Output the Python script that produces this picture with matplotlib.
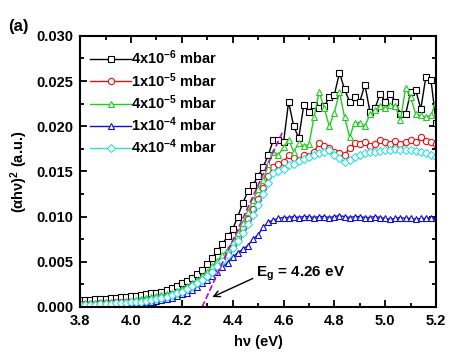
import numpy as np
import matplotlib
matplotlib.use('Agg')
import matplotlib.pyplot as plt
from matplotlib.ticker import MultipleLocator

plt.rcParams['font.family'] = ['Liberation Sans', 'DejaVu Sans']
plt.rcParams['font.weight'] = 'bold'
plt.rcParams['mathtext.fontset'] = 'custom'
plt.rcParams['mathtext.rm'] = 'Liberation Sans:bold'
plt.rcParams['mathtext.bf'] = 'Liberation Sans:bold'
plt.rcParams['mathtext.it'] = 'Liberation Sans:bold'

# photon energy (eV)
energy = np.round(np.arange(3.80, 5.2001, 0.02), 2)

y_4e6 = [0.0008, 0.0008, 0.0008, 0.0009, 0.0009, 0.0009, 0.0010, 0.0010, 0.0011, 0.0011,
         0.0012, 0.0012, 0.0013, 0.0014, 0.0015, 0.0016, 0.0017, 0.0019, 0.0021, 0.0023,
         0.0026, 0.0029, 0.0032, 0.0036, 0.0041, 0.0047, 0.0054, 0.0062, 0.0070, 0.0078,
         0.0086, 0.0100, 0.0115, 0.0128, 0.0135, 0.0145, 0.0155, 0.0168, 0.0185, 0.0185,
         0.0182, 0.0227, 0.0200, 0.0187, 0.0224, 0.0216, 0.0224, 0.0220, 0.0222, 0.0232,
         0.0235, 0.0259, 0.0241, 0.0227, 0.0232, 0.0227, 0.0246, 0.0216, 0.0220, 0.0236,
         0.0227, 0.0236, 0.0227, 0.0213, 0.0213, 0.0238, 0.0240, 0.0219, 0.0255, 0.0251,
         0.0204]
y_1e5 = [0.0003, 0.0003, 0.0003, 0.0003, 0.0004, 0.0004, 0.0004, 0.0005, 0.0005, 0.0005,
         0.0006, 0.0006, 0.0007, 0.0008, 0.0009, 0.0010, 0.0011, 0.0012, 0.0014, 0.0016,
         0.0018, 0.0021, 0.0024, 0.0027, 0.0031, 0.0036, 0.0041, 0.0047, 0.0053, 0.0060,
         0.0068, 0.0077, 0.0087, 0.0097, 0.0108, 0.0120, 0.0132, 0.0145, 0.0155, 0.0158,
         0.0160, 0.0168, 0.0165, 0.0163, 0.0168, 0.0167, 0.0172, 0.0181, 0.0178, 0.0176,
         0.0172, 0.0170, 0.0168, 0.0176, 0.0181, 0.0180, 0.0183, 0.0178, 0.0180, 0.0185,
         0.0182, 0.0180, 0.0184, 0.0180, 0.0182, 0.0185, 0.0183, 0.0188, 0.0184, 0.0182,
         0.0180]
y_4e5 = [0.0004, 0.0004, 0.0004, 0.0004, 0.0005, 0.0005, 0.0005, 0.0006, 0.0006, 0.0007,
         0.0007, 0.0008, 0.0009, 0.0010, 0.0011, 0.0012, 0.0013, 0.0014, 0.0016, 0.0018,
         0.0020, 0.0023, 0.0026, 0.0030, 0.0034, 0.0039, 0.0045, 0.0051, 0.0057, 0.0064,
         0.0072, 0.0082, 0.0093, 0.0105, 0.0118, 0.0130, 0.0140, 0.0158, 0.0172, 0.0168,
         0.0177, 0.0185, 0.0172, 0.0181, 0.0178, 0.0180, 0.0210, 0.0238, 0.0220, 0.0200,
         0.0215, 0.0238, 0.0210, 0.0188, 0.0204, 0.0204, 0.0200, 0.0213, 0.0218, 0.0222,
         0.0220, 0.0224, 0.0222, 0.0207, 0.0242, 0.0232, 0.0213, 0.0212, 0.0210, 0.0212,
         0.0227]
y_1e4 = [0.0001, 0.0001, 0.0001, 0.0001, 0.0002, 0.0002, 0.0002, 0.0002, 0.0003, 0.0003,
         0.0003, 0.0004, 0.0004, 0.0005, 0.0006, 0.0007, 0.0008, 0.0009, 0.0010, 0.0012,
         0.0014, 0.0016, 0.0019, 0.0022, 0.0026, 0.0030, 0.0034, 0.0039, 0.0044, 0.0049,
         0.0055, 0.0060, 0.0064, 0.0068, 0.0075, 0.0080, 0.0088, 0.0094, 0.0096, 0.0098,
         0.0099, 0.0099, 0.0100, 0.0099, 0.0100, 0.0100, 0.0099, 0.0100, 0.0100, 0.0099,
         0.0100, 0.0101, 0.0100, 0.0099, 0.0100, 0.0100, 0.0099, 0.0099, 0.0100, 0.0099,
         0.0098, 0.0097, 0.0098, 0.0099, 0.0098, 0.0098, 0.0097, 0.0098, 0.0098, 0.0099,
         0.0098]
y_4e4 = [0.0002, 0.0002, 0.0002, 0.0002, 0.0003, 0.0003, 0.0003, 0.0004, 0.0004, 0.0004,
         0.0005, 0.0005, 0.0006, 0.0007, 0.0008, 0.0009, 0.0010, 0.0011, 0.0013, 0.0015,
         0.0017, 0.0020, 0.0023, 0.0026, 0.0030, 0.0034, 0.0039, 0.0045, 0.0051, 0.0058,
         0.0065, 0.0073, 0.0082, 0.0092, 0.0102, 0.0113, 0.0125, 0.0137, 0.0148, 0.0150,
         0.0153, 0.0157, 0.0158, 0.0161, 0.0164, 0.0166, 0.0168, 0.0170, 0.0172, 0.0174,
         0.0168, 0.0165, 0.0160, 0.0163, 0.0166, 0.0168, 0.0170, 0.0171, 0.0172, 0.0173,
         0.0174, 0.0174, 0.0175, 0.0174, 0.0174, 0.0174, 0.0173, 0.0172, 0.0170, 0.0168,
         0.0166]

labels = ['4x10$^{-6}$ mbar', '1x10$^{-5}$ mbar', '4x10$^{-5}$ mbar',
          '1x10$^{-4}$ mbar', '4x10$^{-4}$ mbar']

# linear fit of the absorption edge (Tauc extrapolation)
fit_x = [4.28, 4.595]
fit_y = [0.0, 0.0193]

fig = plt.figure(figsize=(4.74, 3.62), dpi=100)
ax = fig.add_axes([0.169, 0.152, 0.751, 0.749])

series = [y_4e6, y_1e5, y_4e5, y_1e4, y_4e4]
colors = ['black', '#e81010', '#22cc22', '#1010cc', '#33dddd']
markers = ['s', 'o', '^', '^', 'D']
sizes = [4.5, 4.5, 5, 5, 4.2]
for ys, c, m, ms, lab in zip(series, colors, markers, sizes, labels):
    ax.plot(energy, ys, color=c, marker=m, markersize=ms, markerfacecolor='white',
            markeredgewidth=0.8, linewidth=1.0, label=lab)

ax.plot(fit_x, fit_y, color='#cc00cc', linestyle='--', linewidth=1.2)

ax.set_xlim(3.8, 5.2)
ax.set_ylim(0, 0.030)
ax.xaxis.set_major_locator(MultipleLocator(0.2))
ax.xaxis.set_minor_locator(MultipleLocator(0.1))
ax.yaxis.set_major_locator(MultipleLocator(0.005))
ax.yaxis.set_minor_locator(MultipleLocator(0.0025))
ax.xaxis.set_major_formatter(plt.FormatStrFormatter('%.1f'))
ax.yaxis.set_major_formatter(plt.FormatStrFormatter('%.3f'))
ax.tick_params(which='both', direction='in', top=True, right=True, width=1.3)
ax.tick_params(which='major', length=5, labelsize=10.5, pad=5)
ax.tick_params(which='minor', length=3)
for s in ax.spines.values():
    s.set_linewidth(1.5)
for t in ax.get_xticklabels() + ax.get_yticklabels():
    t.set_fontweight('bold')

ax.set_xlabel('h\u03bd (eV)', fontsize=10.5, fontweight='bold', labelpad=5)
ax.set_ylabel('(\u03b1h\u03bd)$^2$ (a.u.)', fontsize=10.5, fontweight='bold', labelpad=4)

ax.annotate('E$_g$ = 4.26 eV', xy=(4.32, 0.0011), xytext=(4.49, 0.0037),
            fontsize=11, fontweight='bold', va='center',
            arrowprops=dict(arrowstyle='->', color='black', lw=1.0, shrinkA=0, shrinkB=0,
                            relpos=(0, 0.3)))

leg = ax.legend(loc='upper left', frameon=False, fontsize=10.5, handlelength=2.8,
                handletextpad=0.0, labelspacing=0.25, borderaxespad=0.3,
                bbox_to_anchor=(0.0, 0.99))
for t in leg.get_texts():
    t.set_fontweight('bold')

fig.text(0.017, 0.915, '(a)', fontsize=12, fontweight='bold')

fig.savefig('out.png', dpi=100)
